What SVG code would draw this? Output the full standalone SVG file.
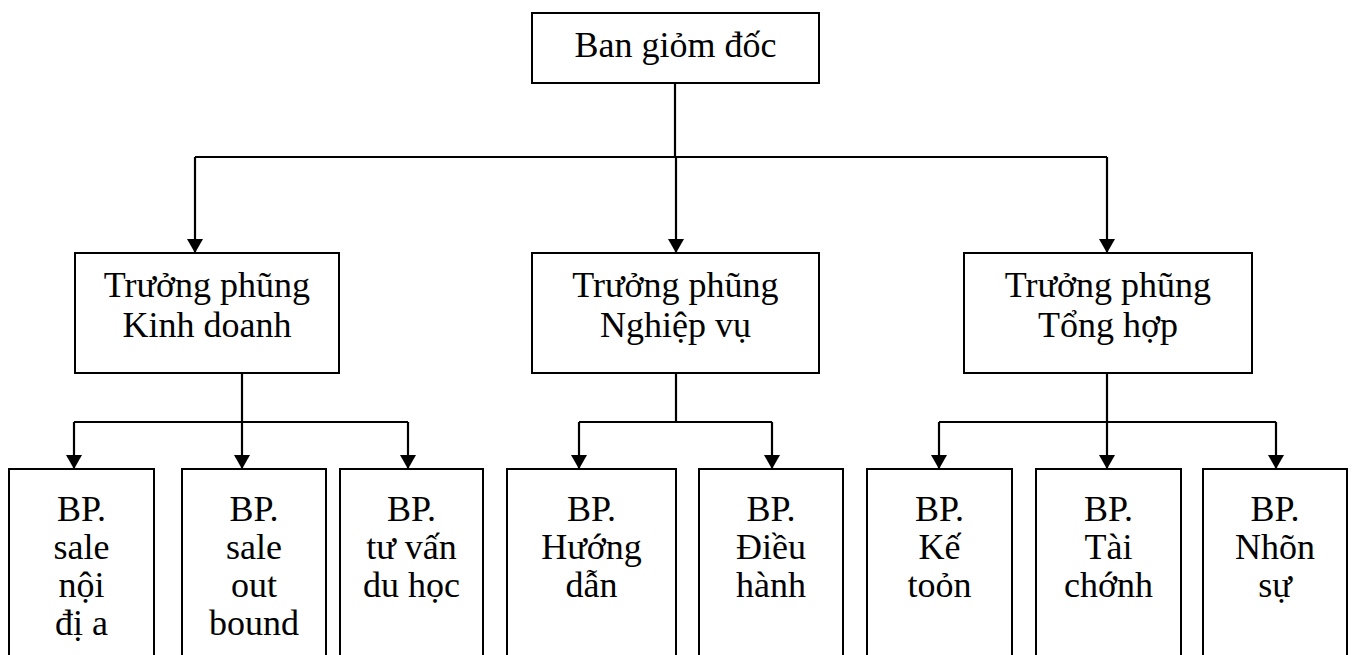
<svg xmlns="http://www.w3.org/2000/svg" width="1353" height="655" viewBox="0 0 1353 655">
<defs>
<style>
.box{fill:#fff;stroke:#000;stroke-width:2}
.ln{fill:none;stroke:#000;stroke-width:2.2}
.t{font-family:"Liberation Serif","Times New Roman",serif;font-size:36px;fill:#000;text-anchor:middle}
</style>
<marker id="arr" viewBox="0 0 14 16" refX="14" refY="8" markerWidth="14" markerHeight="16" markerUnits="userSpaceOnUse" orient="auto">
<path d="M0,0 L14,8 L0,16 z" fill="#000"/>
</marker>
</defs>
<rect width="1353" height="655" fill="#fff"/>
<g id="connectors">
<path class="ln" d="M675,83 V157"/>
<path class="ln" d="M195,157 H1107"/>
<path class="ln" d="M195,157 V253" marker-end="url(#arr)"/>
<path class="ln" d="M676,157 V253" marker-end="url(#arr)"/>
<path class="ln" d="M1107,157 V253" marker-end="url(#arr)"/>
<path class="ln" d="M242,373 V422"/>
<path class="ln" d="M74,422 H408"/>
<path class="ln" d="M74,422 V469" marker-end="url(#arr)"/>
<path class="ln" d="M242,422 V469" marker-end="url(#arr)"/>
<path class="ln" d="M408,422 V469" marker-end="url(#arr)"/>
<path class="ln" d="M676,373 V422"/>
<path class="ln" d="M579,422 H772"/>
<path class="ln" d="M579,422 V469" marker-end="url(#arr)"/>
<path class="ln" d="M772,422 V469" marker-end="url(#arr)"/>
<path class="ln" d="M1107,373 V422"/>
<path class="ln" d="M939,422 H1276"/>
<path class="ln" d="M939,422 V469" marker-end="url(#arr)"/>
<path class="ln" d="M1107,422 V469" marker-end="url(#arr)"/>
<path class="ln" d="M1276,422 V469" marker-end="url(#arr)"/>
</g>
<g id="ban-giam-doc">
<rect class="box" x="532" y="13" width="287" height="70"/>
<text class="t" x="675.5" y="57">Ban giỏm đốc</text>
</g>
<g id="tp-kinh-doanh">
<rect class="box" x="75" y="253" width="264" height="120"/>
<text class="t" x="207" y="297">Trưởng phũng</text>
<text class="t" x="207" y="337">Kinh doanh</text>
</g>
<g id="tp-nghiep-vu">
<rect class="box" x="532" y="253" width="287" height="120"/>
<text class="t" x="675.5" y="297">Trưởng phũng</text>
<text class="t" x="675.5" y="337">Nghiệp vụ</text>
</g>
<g id="tp-tong-hop">
<rect class="box" x="964" y="253" width="288" height="120"/>
<text class="t" x="1108" y="297">Trưởng phũng</text>
<text class="t" x="1108" y="337">Tổng hợp</text>
</g>
<g id="bp-sale-noi-dia">
<rect class="box" x="9" y="469" width="145" height="200"/>
<text class="t" x="81.5" y="521">BP.</text>
<text class="t" x="81.5" y="559">sale</text>
<text class="t" x="81.5" y="597">nội</text>
<text class="t" x="81.5" y="635">đị a</text>
</g>
<g id="bp-sale-outbound">
<rect class="box" x="182" y="469" width="144" height="200"/>
<text class="t" x="254" y="521">BP.</text>
<text class="t" x="254" y="559">sale</text>
<text class="t" x="254" y="597">out</text>
<text class="t" x="254" y="635">bound</text>
</g>
<g id="bp-tu-van">
<rect class="box" x="340" y="469" width="143" height="200"/>
<text class="t" x="411.5" y="521">BP.</text>
<text class="t" x="411.5" y="559">tư vấn</text>
<text class="t" x="411.5" y="597">du học</text>
</g>
<g id="bp-huong-dan">
<rect class="box" x="507" y="469" width="169" height="200"/>
<text class="t" x="591.5" y="521">BP.</text>
<text class="t" x="591.5" y="559">Hướng</text>
<text class="t" x="591.5" y="597">dẫn</text>
</g>
<g id="bp-dieu-hanh">
<rect class="box" x="699" y="469" width="144" height="200"/>
<text class="t" x="771" y="521">BP.</text>
<text class="t" x="771" y="559">Điều</text>
<text class="t" x="771" y="597">hành</text>
</g>
<g id="bp-ke-toan">
<rect class="box" x="867" y="469" width="145" height="200"/>
<text class="t" x="939.5" y="521">BP.</text>
<text class="t" x="939.5" y="559">Kế</text>
<text class="t" x="939.5" y="597">toỏn</text>
</g>
<g id="bp-tai-chinh">
<rect class="box" x="1036" y="469" width="145" height="200"/>
<text class="t" x="1108.5" y="521">BP.</text>
<text class="t" x="1108.5" y="559">Tài</text>
<text class="t" x="1108.5" y="597">chớnh</text>
</g>
<g id="bp-nhan-su">
<rect class="box" x="1203" y="469" width="144" height="200"/>
<text class="t" x="1275" y="521">BP.</text>
<text class="t" x="1275" y="559">Nhõn</text>
<text class="t" x="1275" y="597">sự</text>
</g>
</svg>
